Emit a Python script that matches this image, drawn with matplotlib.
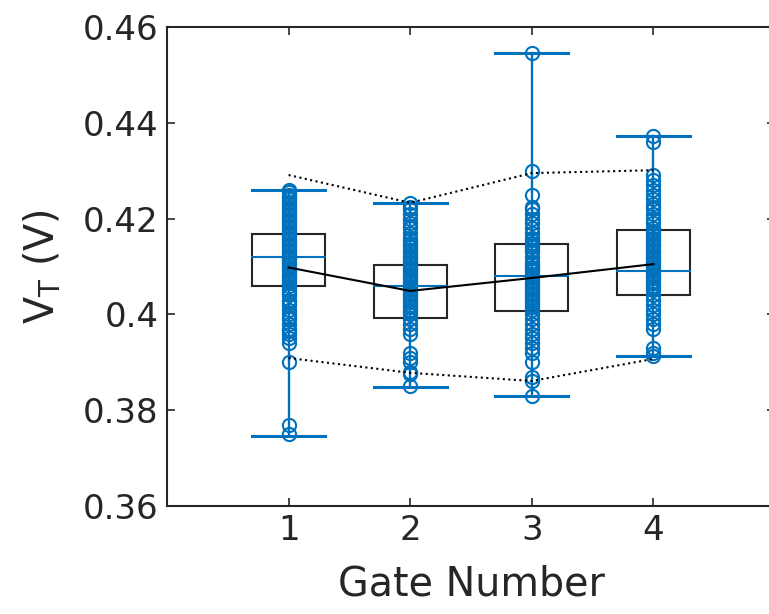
import matplotlib
matplotlib.use("Agg")
import matplotlib.pyplot as plt
from matplotlib.patches import Rectangle

gates = [1, 2, 3, 4]
gate1 = [0.426, 0.4255, 0.425, 0.4245, 0.424, 0.4235, 0.423, 0.4225, 0.422, 0.4215,
         0.421, 0.4205, 0.420, 0.4195, 0.419, 0.4185, 0.418, 0.4175, 0.417, 0.4165,
         0.416, 0.4155, 0.415, 0.4145, 0.414, 0.4135, 0.413, 0.4125, 0.412, 0.4115,
         0.411, 0.4105, 0.410, 0.4095, 0.409, 0.4085, 0.408, 0.4075, 0.407, 0.4065,
         0.406, 0.405, 0.4045, 0.404, 0.403, 0.4025, 0.402, 0.401, 0.400, 0.3995,
         0.399, 0.398, 0.397, 0.3965, 0.396, 0.395, 0.394, 0.390, 0.377, 0.375]
gate2 = [0.4233, 0.4225, 0.422, 0.421, 0.420, 0.419, 0.4185, 0.418, 0.417, 0.416,
         0.4155, 0.415, 0.4145, 0.414, 0.4135, 0.413, 0.4125, 0.412, 0.4115, 0.411,
         0.4105, 0.410, 0.4095, 0.409, 0.4085, 0.408, 0.4075, 0.407, 0.4065, 0.406,
         0.4055, 0.405, 0.4045, 0.404, 0.4035, 0.403, 0.4025, 0.402, 0.4015, 0.401,
         0.4005, 0.400, 0.399, 0.398, 0.397, 0.396, 0.392, 0.391, 0.390, 0.388,
         0.3875, 0.385]
gate3 = [0.4546, 0.430, 0.425, 0.4225, 0.422, 0.421, 0.420, 0.419, 0.418, 0.417,
         0.416, 0.4155, 0.415, 0.4145, 0.414, 0.4135, 0.413, 0.412, 0.411, 0.4105,
         0.410, 0.4095, 0.409, 0.4085, 0.408, 0.4075, 0.407, 0.4065, 0.406, 0.4055,
         0.405, 0.4045, 0.404, 0.4035, 0.403, 0.4025, 0.402, 0.4015, 0.401, 0.400,
         0.399, 0.398, 0.397, 0.396, 0.395, 0.394, 0.393, 0.392, 0.390, 0.387,
         0.386, 0.383]
gate4 = [0.4372, 0.436, 0.429, 0.428, 0.427, 0.426, 0.425, 0.424, 0.423, 0.4225,
         0.422, 0.421, 0.420, 0.419, 0.418, 0.4175, 0.417, 0.4165, 0.416, 0.4155,
         0.415, 0.4145, 0.414, 0.4135, 0.413, 0.4125, 0.412, 0.4115, 0.411, 0.4105,
         0.410, 0.4095, 0.409, 0.4085, 0.408, 0.4075, 0.407, 0.4065, 0.406, 0.4055,
         0.405, 0.404, 0.403, 0.402, 0.401, 0.400, 0.399, 0.398, 0.397, 0.393,
         0.392, 0.3913]
points = [gate1, gate2, gate3, gate4]

box_q1 = [0.4059, 0.3992, 0.4007, 0.4041]
box_q3 = [0.4168, 0.4103, 0.4147, 0.4176]
box_median = [0.4120, 0.4060, 0.4080, 0.4090]
whisk_min = [0.3747, 0.3848, 0.3830, 0.3913]
whisk_max = [0.4260, 0.4233, 0.4546, 0.4372]
mean_vals = [0.4098, 0.4049, 0.4076, 0.4105]
band_upper = [0.4291, 0.4233, 0.4295, 0.4301]
band_lower = [0.3909, 0.3878, 0.3861, 0.3907]

xticks = [1, 2, 3, 4]
yticks = [0.36, 0.38, 0.40, 0.42, 0.44, 0.46]
ytick_labels = ["0.36", "0.38", "0.4", "0.42", "0.44", "0.46"]

blue = "#0072BD"
W, H = 769, 614
fig = plt.figure(figsize=(W / 100, H / 100), dpi=100)
ax = fig.add_axes([167 / W, (H - 506) / H, 608 / W, 479 / H])

bw = 0.6
for i, g in enumerate(gates):
    ax.add_patch(Rectangle((g - bw / 2, box_q1[i]), bw, box_q3[i] - box_q1[i],
                           fill=False, edgecolor="#262626", lw=1.5, zorder=2))
    ax.plot([g - bw / 2, g + bw / 2], [box_median[i]] * 2, color=blue, lw=1.5, zorder=3)
    ax.plot([g, g], [whisk_min[i], whisk_max[i]], color=blue, lw=1.7, zorder=3)
    ax.plot([g - bw / 2, g + bw / 2], [whisk_min[i]] * 2, color=blue, lw=2.2, zorder=3)
    ax.plot([g - bw / 2, g + bw / 2], [whisk_max[i]] * 2, color=blue, lw=2.2, zorder=3)
    ax.plot([g] * len(points[i]), points[i], linestyle="none", marker="o",
            markersize=9.5, markerfacecolor="none", markeredgecolor=blue,
            markeredgewidth=1.5, zorder=4)

ax.plot(gates, mean_vals, color="black", lw=1.5, zorder=5)
ax.plot(gates, band_upper, color="black", lw=1.5, linestyle=":", zorder=5)
ax.plot(gates, band_lower, color="black", lw=1.5, linestyle=":", zorder=5)

ax.set_xlim(0, 5)
ax.set_ylim(0.36, 0.46)
ax.set_xticks(xticks)
ax.set_xticklabels([str(t) for t in xticks])
ax.set_yticks(yticks)
ax.set_yticklabels(ytick_labels)
ax.tick_params(direction="in", length=6, width=1.2, colors="#262626",
               labelsize=24.5, top=True, right=True, pad=6)
for sp in ax.spines.values():
    sp.set_color("#262626")
    sp.set_linewidth(1.5)

ax.set_xlabel("Gate Number", fontsize=28.5, color="#262626", labelpad=12)
ax.set_ylabel(r"$\mathregular{V_T}$ (V)", fontsize=28.5, color="#262626", labelpad=14)

fig.savefig("out.png", dpi=100)
